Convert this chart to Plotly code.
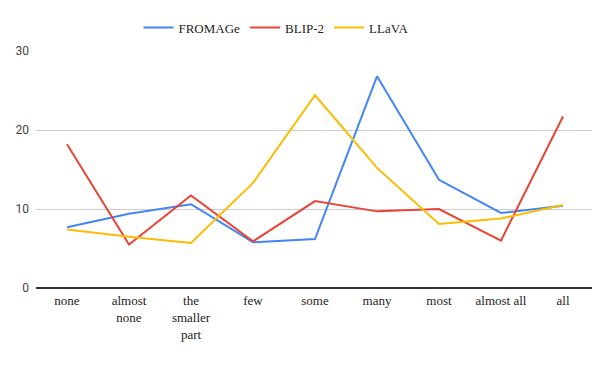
import plotly.graph_objects as go

categories = ["none", "almost<br>none", "the<br>smaller<br>part", "few", "some",
              "many", "most", "almost all", "all"]
fromage = [7.7, 9.4, 10.6, 5.8, 6.2, 26.8, 13.7, 9.5, 10.4]
blip2 = [18.2, 5.5, 11.7, 5.9, 11.0, 9.7, 10.0, 6.0, 21.7]
llava = [7.4, 6.5, 5.7, 13.3, 24.4, 15.2, 8.1, 8.8, 10.5]

series = [
    ("FROMAGe", fromage, "#4285F4"),
    ("BLIP-2", blip2, "#EA4335"),
    ("LLaVA", llava, "#FBBC04"),
]

fig = go.Figure()
for name, vals, col in series:
    fig.add_trace(go.Scatter(x=categories, y=vals, name=name, mode="lines",
                             line=dict(color=col, width=2)))

fig.update_layout(
    width=600, height=371,
    margin=dict(l=28, r=14, t=43, b=91),
    plot_bgcolor="white", paper_bgcolor="white",
    showlegend=True,
    legend=dict(orientation="h", x=0.43, xanchor="center", yref="container",
                y=0.947, yanchor="middle",
                font=dict(family="Liberation Serif", size=13, color="#222"),
                itemwidth=30),
    xaxis=dict(showgrid=False, range=[-0.5, 8.5], automargin=False,
               ticklabelstandoff=3,
               tickfont=dict(family="Liberation Serif", size=13, color="#222"),
               ticks="", showline=False),
    yaxis=dict(range=[0, 30], tickvals=[0, 10, 20, 30], gridcolor="#cccccc",
               automargin=False, ticklabelstandoff=6,
               zeroline=True, zerolinecolor="#333333", zerolinewidth=1.5,
               tickfont=dict(family="Roboto", size=12, color="#444"), ticks=""),
)

fig.write_html("out.html")
